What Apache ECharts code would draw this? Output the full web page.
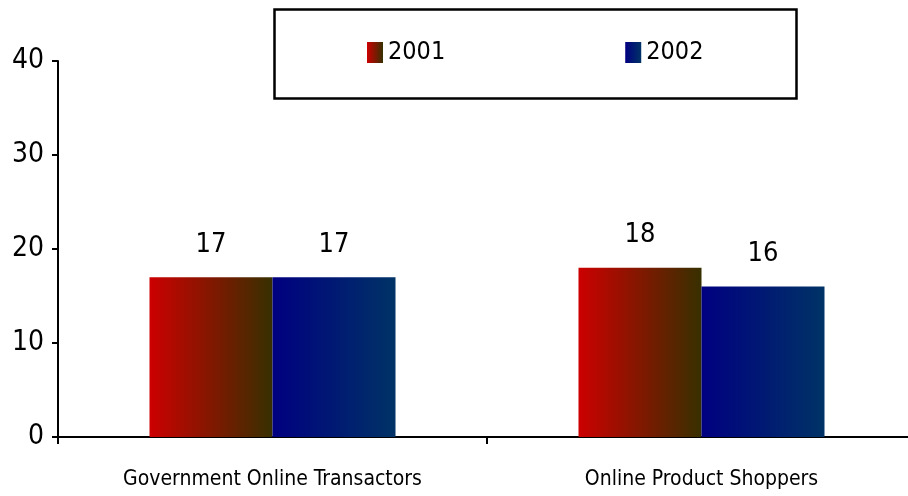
<!DOCTYPE html>
<html>
<head>
<meta charset="utf-8">
<script src="https://cdn.jsdelivr.net/npm/echarts@6/dist/echarts.min.js"></script>
<style>
  html, body { margin: 0; padding: 0; background: #fff; }
  #chart { width: 908px; height: 496px; }
</style>
</head>
<body>
<div id="chart"></div>
<script>
const categories = ['Government Online Transactors', 'Online Product Shoppers'];
const seriesNames = ['2001', '2002'];
const values2001 = [17, 18];
const values2002 = [17, 16];
const yTicks = [0, 10, 20, 30, 40];

const FONT = '"Liberation Sans Narrow", "DejaVu Sans Condensed", sans-serif';

function hGradient(from, to) {
  return new echarts.graphic.LinearGradient(0, 0, 1, 0, [
    { offset: 0, color: from },
    { offset: 1, color: to }
  ]);
}

const redFill = hGradient('#cc0000', '#373000');
const blueFill = hGradient('#000080', '#003366');

const chart = echarts.init(document.getElementById('chart'), null, { renderer: 'canvas' });

const labelStyle = {
  show: true,
  position: 'top',
  distance: 19,
  color: '#000',
  fontFamily: FONT,
  fontSize: 27
};

chart.setOption({
  animation: false,
  backgroundColor: '#fff',
  graphic: [{
    type: 'rect',
    left: 272,
    top: 7,
    shape: { width: 522, height: 89 },
    style: { fill: 'none', stroke: '#000', lineWidth: 2.5 },
    z: 1
  }],
  legend: {
    data: seriesNames,
    left: 367,
    top: 40,
    padding: 0,
    itemWidth: 16,
    itemHeight: 21,
    itemGap: 180,
    icon: 'rect',
    textStyle: { fontFamily: FONT, fontSize: 25, color: '#000' }
  },
  grid: { left: 58, top: 61, right: -8, height: 376, outerBoundsMode: 'none' },
  xAxis: {
    type: 'category',
    data: categories,
    axisLine: { lineStyle: { color: '#000', width: 2 } },
    axisTick: { show: true, length: 7, lineStyle: { color: '#000', width: 2 } },
    axisLabel: { color: '#000', fontFamily: FONT, fontSize: 21, margin: 32, interval: 0 },
    splitLine: { show: false }
  },
  yAxis: {
    type: 'value',
    min: yTicks[0],
    max: yTicks[yTicks.length - 1],
    interval: 10,
    axisLine: { show: true, lineStyle: { color: '#000', width: 2 } },
    axisTick: { show: true, length: 6, lineStyle: { color: '#000', width: 2 } },
    axisLabel: { color: '#000', fontFamily: FONT, fontSize: 28, margin: 14 },
    splitLine: { show: false }
  },
  series: [
    {
      name: seriesNames[0],
      type: 'bar',
      data: values2001,
      barWidth: 123,
      barGap: '0%',
      itemStyle: { color: redFill },
      label: labelStyle
    },
    {
      name: seriesNames[1],
      type: 'bar',
      data: values2002,
      barWidth: 123,
      barGap: '0%',
      itemStyle: { color: blueFill },
      label: labelStyle
    }
  ]
});
</script>
</body>
</html>
